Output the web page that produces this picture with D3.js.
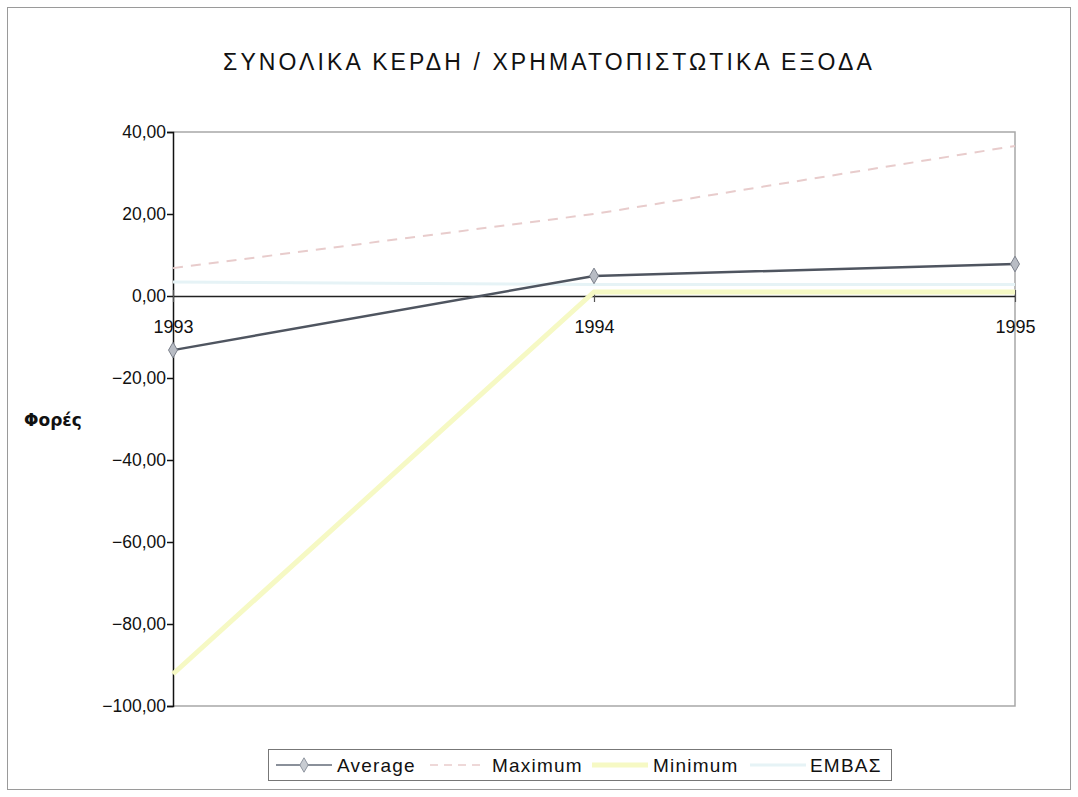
<!DOCTYPE html>
<html><head><meta charset="utf-8">
<script src="https://cdn.jsdelivr.net/npm/d3@7"></script>
<style>body{margin:0;background:#fff;} svg{display:block;}</style>
</head><body>
<svg id="c" width="1078" height="797"></svg>
<script>
const years = ["1993","1994","1995"];
const average = [-13.2, 4.9, 7.8];
const maximum = [6.8, 20.0, 36.6];
const minimum = [-92.2, 1.0, 1.0];
const embas = [3.4, 2.8, 2.8];
const yTicks = [40, 20, 0, -20, -40, -60, -80, -100];
const title = "ΣΥΝΟΛΙΚΑ ΚΕΡΔΗ / ΧΡΗΜΑΤΟΠΙΣΤΩΤΙΚΑ ΕΞΟΔΑ";
const yLabel = "Φορές";
const seriesNames = ["Average", "Maximum", "Minimum", "ΕΜΒΑΣ"];

const svg = d3.select("#c");
const L = 173, R = 1015, T = 132, B = 706;
const x = d3.scalePoint().domain(years).range([L, R]);
const y = d3.scaleLinear().domain([-100, 40]).range([B, T]);
const font = "'Liberation Sans', Arial, sans-serif";

// outer frame
svg.append("rect").attr("x", 7.5).attr("y", 7.5).attr("width", 1063).attr("height", 782)
  .attr("fill", "none").attr("stroke", "#9a9a9a").attr("stroke-width", 1);

// title
svg.append("text").attr("x", 549).attr("y", 70).attr("text-anchor", "middle")
  .attr("font-family", font).attr("font-size", 23).attr("letter-spacing", "3.1px")
  .attr("fill", "#111").text(title);

// plot border (top, right, bottom)
svg.append("path").attr("d", `M${L},${T}H${R}V${B}H${L}`).attr("fill", "none")
  .attr("stroke", "#a8a8a8").attr("stroke-width", 1.5);

// y axis
const yAxis = d3.axisLeft(y).tickValues(yTicks).tickSize(6).tickPadding(1)
  .tickFormat(d => d3.format(".2f")(d).replace(".", ","));
const ga = svg.append("g").attr("transform", `translate(${L},0)`).call(yAxis);
ga.select(".domain").attr("stroke", "#111").attr("stroke-width", 1.5);
ga.selectAll(".tick line").attr("stroke", "#111").attr("stroke-width", 1.5);
ga.selectAll("text").attr("font-family", font).attr("font-size", 17.5).attr("fill", "#111");

// y label
svg.append("text").attr("x", 24).attr("y", 426).attr("font-family", "'DejaVu Sans', sans-serif")
  .attr("font-weight", "bold").attr("font-size", 17).attr("fill", "#111").text(yLabel);

// x axis at zero
const xAxis = d3.axisBottom(x).tickSize(6).tickSizeOuter(0).tickPadding(18);
const gx = svg.append("g").attr("transform", `translate(0,${y(0)})`).call(xAxis);
gx.select(".domain").attr("stroke", "#222").attr("stroke-width", 1.5);
gx.selectAll(".tick line").attr("stroke", "#555").attr("y1", -6).attr("stroke-width", 1.2);
gx.selectAll("text").attr("font-family", font).attr("font-size", 18).attr("fill", "#111");

const line = d3.line().x((d, i) => x(years[i])).y(d => y(d));

// ΕΜΒΑΣ
svg.append("path").datum(embas).attr("d", line).attr("fill", "none")
  .attr("stroke", "#e6f3f6").attr("stroke-width", 3);
// Minimum
svg.append("path").datum(minimum).attr("d", line).attr("fill", "none")
  .attr("stroke", "#f6f9c4").attr("stroke-width", 5);
// Maximum
svg.append("path").datum(maximum).attr("d", line).attr("fill", "none")
  .attr("stroke", "#e8cccc").attr("stroke-width", 2).attr("stroke-dasharray", "10,8");
// Average
svg.append("path").datum(average).attr("d", line).attr("fill", "none")
  .attr("stroke", "#4f5560").attr("stroke-width", 2.5);
svg.selectAll(".avgm").data(average).enter().append("path")
  .attr("transform", (d, i) => `translate(${x(years[i])},${y(d)})`)
  .attr("d", d3.symbol(d3.symbolDiamond, 70)).attr("fill", "#b8bcc4").attr("stroke", "#7c818c");

// legend
const lg = svg.append("g");
lg.append("rect").attr("x", 268.5).attr("y", 749.5).attr("width", 623).attr("height", 31)
  .attr("fill", "#fff").attr("stroke", "#777");
const legX = [276, 430, 592, 750];
const legTx = [337, 492, 653, 810];
const legStyles = [
  {c: "#8a909a", w: 2, dash: null},
  {c: "#eed8d8", w: 2, dash: "8,6"},
  {c: "#f6f9c4", w: 5, dash: null},
  {c: "#e6f3f6", w: 3, dash: null}];
seriesNames.forEach((n, i) => {
  const s = legStyles[i];
  lg.append("line").attr("x1", legX[i]).attr("x2", legX[i] + 56).attr("y1", 765).attr("y2", 765)
    .attr("stroke", s.c).attr("stroke-width", s.w).attr("stroke-dasharray", s.dash);
  if (i === 0) lg.append("path").attr("transform", `translate(${legX[i] + 28},765)`)
    .attr("d", d3.symbol(d3.symbolDiamond, 60)).attr("fill", "#c8ccd2").attr("stroke", "#9096a0");
  lg.append("text").attr("x", legTx[i]).attr("y", 772).attr("font-family", font)
    .attr("font-size", 19).attr("letter-spacing", "1.2px").attr("fill", "#111").text(n);
});
</script>
</body></html>
